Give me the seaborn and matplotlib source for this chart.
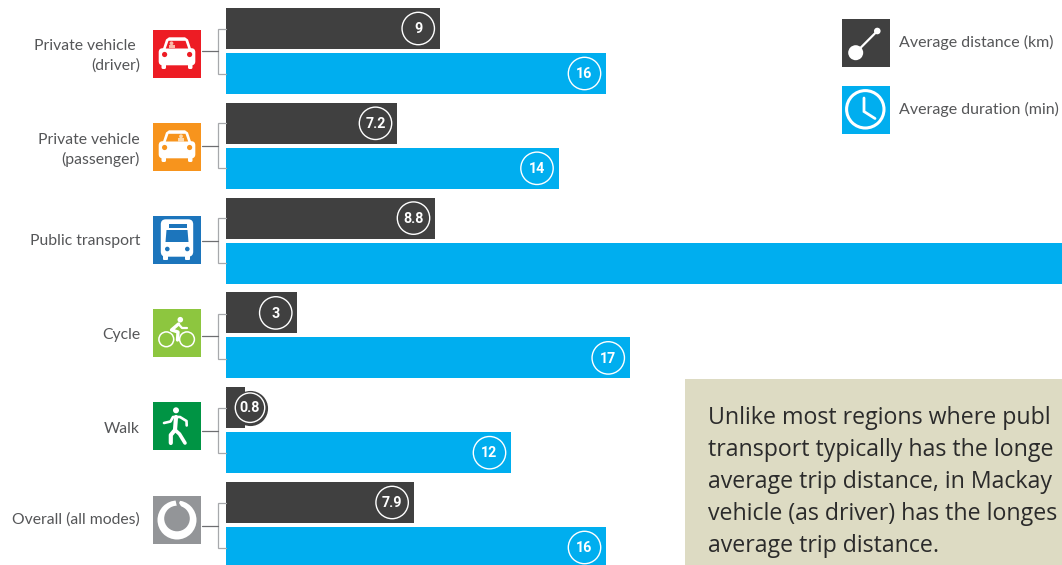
import matplotlib
matplotlib.use("Agg")
import matplotlib.pyplot as plt
from matplotlib.patches import Rectangle, Circle, Polygon, FancyBboxPatch
import pandas as pd
import seaborn as sns

# Trip averages per travel mode
modes = ["Private vehicle\n(driver)", "Private vehicle\n(passenger)", "Public transport",
         "Cycle", "Walk", "Overall (all modes)"]
mode_labels = ["Private vehicle \n(driver)", "Private vehicle\n(passenger)", "Public transport",
               "Cycle", "Walk", "Overall (all modes)"]
distance_km = [9, 7.2, 8.8, 3, 0.8, 7.9]
duration_min = [16, 14, 38, 17, 12, 16]
distance_labels = ["9", "7.2", "8.8", "3", "0.8", "7.9"]
duration_labels = ["16", "14", "38", "17", "12", "16"]
measures = ["Average distance (km)", "Average duration (min)"]

DARK = "#404040"
BLUE = "#00AEEF"
TEXT = "#555658"
LABEL_FONT = "Lato"
W, H = 1062, 565

sns.set_theme(style="white")
plt.rcParams["font.family"] = ["Lato", "DejaVu Sans"]

frame = pd.DataFrame({
    "mode": modes * 2,
    "value": distance_km + duration_min,
    "measure": [measures[0]] * 6 + [measures[1]] * 6,
})

fig = plt.figure(figsize=(W / 100, H / 100), dpi=100, facecolor="white")

# Chart area starts at the bars' common baseline and runs off the right edge
PX_PER_UNIT = 23.75
LEFT = 226
ax = fig.add_axes([LEFT / W, 0, 1 - LEFT / W, 1])
sns.barplot(data=frame, y="mode", x="value", hue="measure", order=modes,
            palette=[DARK, BLUE], width=0.949, gap=0.089, saturation=1,
            linewidth=0, legend=False, ax=ax)
ax.set_xlim(0, (W - LEFT) / PX_PER_UNIT)
ax.set_ylim(5.422, -0.538)
ax.axis("off")

# Value badges sit just inside each bar's end
BAND = 0.2373
BADGE_INSET = 21.5 / PX_PER_UNIT
for i in range(len(modes)):
    for value, text, off in ((distance_km[i], distance_labels[i], -BAND),
                             (duration_min[i], duration_labels[i], BAND)):
        x = value - BADGE_INSET
        ring_size = 544
        if value == min(distance_km):
            # Too short to hold its badge: it straddles the bar end on a solid disc
            x = value + 5 / PX_PER_UNIT
            ring_size = 450
            ax.scatter([x], [i + off], s=640, color=DARK, linewidths=0, zorder=3, clip_on=False)
        if x + 18 / PX_PER_UNIT > ax.get_xlim()[1]:
            continue
        ax.scatter([x], [i + off], s=ring_size, facecolor="none", edgecolor="white",
                   linewidths=1.0, zorder=4)
        ax.text(x, i + off + 0.008, text, ha="center", va="center", color="white",
                fontsize=10.3, fontweight="bold", family="Roboto", zorder=5)

# Overlay in pixel units for the mode icons, connectors, key and note
deco = fig.add_axes([0, 0, 1, 1], facecolor="none")
deco.set_xlim(0, W)
deco.set_ylim(H, 0)
deco.axis("off")


def shape(patch):
    deco.add_patch(patch)


def car(x, y, bg, figure_x, figure_tint):
    shape(Rectangle((x, y), 48, 48, color=bg, lw=0))
    shape(Polygon([(x + 9.5, y + 20), (x + 13, y + 9.5), (x + 16, y + 7.3), (x + 32, y + 7.3),
                   (x + 35, y + 9.5), (x + 38.5, y + 20)], color="white", lw=0))
    shape(FancyBboxPatch((x + 7.5, y + 20), 33, 13.5, boxstyle="round,pad=1.8,rounding_size=4",
                         color="white", lw=0))
    shape(FancyBboxPatch((x + 9.5, y + 33), 2.5, 5, boxstyle="round,pad=1,rounding_size=1.5", color="white", lw=0))
    shape(FancyBboxPatch((x + 36, y + 33), 2.5, 5, boxstyle="round,pad=1,rounding_size=1.5", color="white", lw=0))
    shape(Polygon([(x + 12.8, y + 18.5), (x + 15.5, y + 10.8), (x + 32.5, y + 10.8), (x + 35.2, y + 18.5)],
                  color=bg, lw=0))
    shape(Circle((x + figure_x, y + 13.3), 1.9, color=figure_tint, lw=0))
    shape(Rectangle((x + figure_x - 3, y + 15.3), 6, 3.2, color=figure_tint, lw=0))
    shape(Circle((x + 11.6, y + 24.5), 2.6, color=bg, lw=0))
    shape(Circle((x + 36.6, y + 24.5), 2.6, color=bg, lw=0))


def bus(x, y, bg):
    shape(Rectangle((x, y), 48, 48, color=bg, lw=0))
    shape(FancyBboxPatch((x + 10, y + 5.5), 28, 33, boxstyle="round,pad=2.2,rounding_size=5", color="white", lw=0))
    shape(FancyBboxPatch((x + 11, y + 39), 3, 4, boxstyle="round,pad=1,rounding_size=1", color="white", lw=0))
    shape(FancyBboxPatch((x + 33, y + 39), 3, 4, boxstyle="round,pad=1,rounding_size=1", color="white", lw=0))
    shape(Rectangle((x + 15.5, y + 7.5), 18, 4, color=bg, lw=0))
    shape(Polygon([(x + 12.5, y + 26), (x + 13.5, y + 14), (x + 34.5, y + 14), (x + 35.5, y + 26)],
                  color=bg, lw=0))
    shape(Circle((x + 14.3, y + 33), 2.3, color=bg, lw=0))
    shape(Circle((x + 34.3, y + 33), 2.3, color=bg, lw=0))


def cyclist(x, y, bg):
    shape(Rectangle((x, y), 48, 48, color=bg, lw=0))
    for cx in (13.3, 34):
        shape(Circle((x + cx, y + 30.3), 7.4, facecolor="none", edgecolor="white", lw=1.1))
    shape(Circle((x + 27.3, y + 10.7), 2.8, color="white", lw=0))
    deco.plot([x + 25.5, x + 18.5, x + 25, x + 24.5], [y + 15, y + 21, y + 23, y + 31],
              color="white", lw=2.4, solid_capstyle="round", solid_joinstyle="round")
    deco.plot([x + 25.5, x + 29, x + 34], [y + 15, y + 19, y + 19], color="white", lw=1.6,
              solid_capstyle="round")


def walker(x, y, bg):
    shape(Rectangle((x, y), 48, 48, color=bg, lw=0))
    shape(Circle((x + 23, y + 8.3), 3, color="white", lw=0))
    deco.plot([x + 23, x + 22, x + 17.8, x + 17.8], [y + 15, y + 28, y + 33, y + 41],
              color="white", lw=3.0, solid_capstyle="round", solid_joinstyle="round")
    deco.plot([x + 22, x + 26.5, x + 32], [y + 28, y + 32, y + 41], color="white", lw=2.6,
              solid_capstyle="round", solid_joinstyle="round")
    deco.plot([x + 11, x + 17.5, x + 20, x + 27, x + 33.5, x + 33.7],
              [y + 21, y + 19.5, y + 15, y + 15, y + 19, y + 23.5], color="white", lw=1.9,
              solid_capstyle="round", solid_joinstyle="round")


def ring(x, y, bg):
    shape(Rectangle((x, y), 48, 48, color=bg, lw=0))
    shape(Circle((x + 24, y + 24), 19.5, color="white", lw=0))
    shape(Circle((x + 24, y + 22.5), 12.8, color=bg, lw=0))
    shape(Polygon([(x + 22.5, y + 4), (x + 28, y + 3), (x + 26, y + 7), (x + 28.5, y + 11), (x + 24, y + 11)],
                  color=bg, lw=0))


ICON_TOPS = [30, 123, 216, 309, 402, 496]
ICON_LEFT = 153
car(ICON_LEFT, ICON_TOPS[0], "#ED1C24", 18.5, "#F9B8A8")
car(ICON_LEFT, ICON_TOPS[1], "#F7941D", 28, "#FCD9AE")
bus(ICON_LEFT, ICON_TOPS[2], "#1C75BC")
cyclist(ICON_LEFT, ICON_TOPS[3], "#8DC63F")
walker(ICON_LEFT, ICON_TOPS[4], "#009444")
ring(ICON_LEFT, ICON_TOPS[5], "#939598")

# Brackets tying each icon to its pair of bars
BRACKET_TOPS = [28.7, 123.3, 218.3, 313.5, 408.3, 503.2]
for top in BRACKET_TOPS:
    deco.plot([226, 218, 218, 226], [top, top, top + 45, top + 45], color="#A7A9AC", lw=0.9,
              solid_joinstyle="miter")
    deco.plot([202, 218], [top + 22.5, top + 22.5], color="#6D6E71", lw=0.9)

# Mode names, right aligned against the icons
LABEL_YS = [56, 150, 241.5, 334.5, 429, 520]
for name, y in zip(mode_labels, LABEL_YS):
    deco.text(140, y, name, ha="right", va="center", color=TEXT, fontsize=11.3,
              family=LABEL_FONT, linespacing=1.42)

# Key
shape(Rectangle((842, 19), 48, 48, color=DARK, lw=0))
deco.plot([855.7, 877.3], [52.7, 31], color="white", lw=1.6)
shape(Circle((855.7, 52.7), 7.5, color="white", lw=0))
shape(Circle((877.3, 31), 3.3, color="white", lw=0))
shape(Rectangle((842, 86), 48, 48, color=BLUE, lw=0))
shape(Circle((865.3, 109.3), 18.7, facecolor="none", edgecolor="white", lw=2.2))
deco.plot([864, 864, 875], [98, 111.5, 118.5], color="white", lw=2, solid_joinstyle="miter")
for label, y in zip(measures, (42.5, 109.5)):
    deco.text(899, y, label, ha="left", va="center", color=TEXT, fontsize=11.5, family=LABEL_FONT)

# Commentary panel running off the page
shape(Rectangle((685, 379), 377, 186, color="#DDDBC3", lw=0))
note = ["Unlike most regions where publ", "transport typically has the longe",
        "average trip distance, in Mackay", "vehicle (as driver) has the longes",
        "average trip distance."]
for k, line in enumerate(note):
    deco.text(708, 418 + 32 * k, line, ha="left", va="center", color="#2B2B2B",
              fontsize=16.7, family="Open Sans")

fig.savefig("out.png", dpi=100, facecolor="white")
